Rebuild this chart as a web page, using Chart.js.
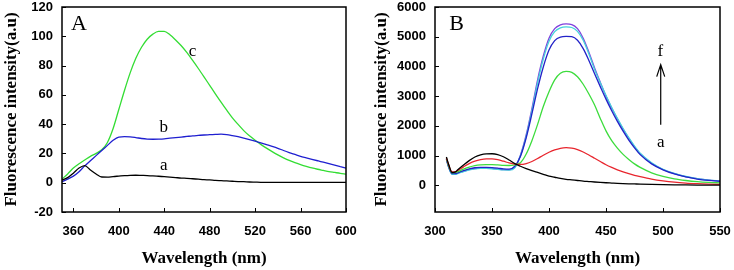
<!DOCTYPE html>
<html>
<head>
<meta charset="utf-8">
<script src="https://cdn.jsdelivr.net/npm/chart.js@4/dist/chart.umd.min.js"></script>
<style>
  body { margin: 0; background: #fff; }
  .panel { position: absolute; top: 0; width: 367px; height: 270px; }
</style>
</head>
<body>
<div class="panel" style="left:0"><canvas id="chartA" width="367" height="270"></canvas></div>
<div class="panel" style="left:367px"><canvas id="chartB" width="367" height="270"></canvas></div>
<script>
// Panel A data (5 nm steps)
const wavelengthsA = [350, 355, 360, 365, 370, 375, 380, 385, 390, 395, 400, 405, 410, 415, 420, 425, 430, 435, 440, 445, 450, 455, 460, 465, 470, 475, 480, 485, 490, 495, 500, 505, 510, 515, 520, 525, 530, 535, 540, 545, 550, 555, 560, 565, 570, 575, 580, 585, 590, 595, 600];
const curveA_a = [1.8, 3.5, 6.5, 10, 11.7, 8.7, 6, 3.9, 3.8, 4.2, 4.5, 4.8, 5, 5.1, 5, 4.9, 4.7, 4.4, 4.1, 3.8, 3.5, 3.2, 3, 2.7, 2.4, 2.1, 1.9, 1.6, 1.4, 1.2, 1, 0.8, 0.7, 0.5, 0.4, 0.3, 0.3, 0.3, 0.3, 0.3, 0.3, 0.3, 0.3, 0.3, 0.3, 0.3, 0.3, 0.3, 0.3, 0.3, 0.3];
const curveA_b = [0.7, 2.5, 4.5, 7.5, 11.5, 15, 18.5, 22, 25.5, 29, 31.2, 31.5, 31.3, 30.8, 30.2, 29.8, 29.7, 29.8, 30, 30.4, 30.8, 31.2, 31.6, 32, 32.3, 32.6, 32.8, 33, 33.2, 32.9, 32.2, 31.4, 30.5, 29.5, 28.4, 27.2, 26, 24.8, 23.5, 22, 20.6, 19.3, 18, 17, 16, 15, 14, 13, 12, 11, 10];
const curveA_c = [2.5, 6, 10, 13, 15.5, 18, 20, 22.5, 27.5, 37, 50, 63, 75, 85, 92.5, 98, 101.5, 103.3, 103.3, 101, 97.5, 93.5, 88.8, 83.5, 78, 72.3, 66.5, 60.7, 55, 49.5, 44.3, 39.8, 35.6, 32, 29, 26.2, 23.6, 21.2, 19, 17, 15.2, 13.7, 12.4, 11.2, 10.1, 9.2, 8.4, 7.6, 7, 6.4, 5.9];
const xTicksA = [360, 400, 440, 480, 520, 560, 600];
const yTicksA = [-20, 0, 20, 40, 60, 80, 100, 120];

// Panel B data
const wavelengthsB = [310, 312, 315, 318, 320, 325, 330, 335, 340, 345, 350, 355, 360, 365, 370, 375, 380, 385, 390, 395, 400, 405, 410, 415, 420, 425, 430, 435, 440, 445, 450, 455, 460, 465, 470, 475, 480, 490, 500, 510, 520, 530, 540, 550];
const curveB_a = [950, 700, 430, 450, 520, 680, 830, 950, 1020, 1055, 1060, 1035, 960, 850, 730, 640, 560, 490, 430, 370, 310, 270, 230, 200, 180, 160, 140, 125, 110, 97, 85, 75, 65, 57, 50, 44, 38, 28, 20, 14, 10, 7, 5, 4];
const curveB_b = [920, 680, 450, 460, 500, 620, 730, 810, 860, 885, 885, 860, 810, 750, 710, 700, 730, 800, 900, 1010, 1110, 1190, 1245, 1265, 1250, 1200, 1120, 1020, 910, 800, 690, 600, 520, 450, 390, 335, 290, 210, 150, 105, 75, 55, 40, 30];
const curveB_c = [900, 650, 420, 430, 460, 540, 610, 660, 685, 695, 695, 685, 670, 665, 690, 760, 1050, 1500, 2050, 2650, 3150, 3550, 3770, 3830, 3800, 3650, 3400, 3070, 2700, 2250, 1830, 1500, 1250, 1040, 870, 720, 600, 420, 300, 215, 160, 120, 95, 80];
const curveB_d = [880, 620, 390, 390, 420, 490, 550, 590, 605, 605, 595, 575, 550, 540, 640, 980, 1600, 2400, 3250, 3980, 4550, 4870, 4990, 5010, 5000, 4880, 4600, 4200, 3750, 3320, 2900, 2510, 2150, 1820, 1520, 1260, 1030, 720, 520, 380, 280, 210, 165, 135];
const curveB_e = [870, 600, 370, 370, 395, 460, 515, 550, 565, 565, 555, 535, 515, 510, 590, 1000, 1650, 2500, 3450, 4250, 4850, 5170, 5300, 5330, 5310, 5180, 4880, 4420, 3900, 3450, 3020, 2620, 2250, 1910, 1600, 1320, 1080, 760, 540, 400, 295, 225, 175, 145];
const curveB_f = [870, 610, 380, 380, 405, 470, 525, 560, 575, 575, 565, 545, 525, 520, 600, 1020, 1700, 2580, 3550, 4350, 4950, 5270, 5400, 5430, 5410, 5270, 4950, 4480, 3950, 3470, 3000, 2600, 2230, 1890, 1580, 1300, 1060, 740, 530, 390, 290, 220, 170, 140];
const xTicksB = [300, 350, 400, 450, 500, 550];
const yTicksB = [0, 1000, 2000, 3000, 4000, 5000, 6000];

const tickFont = { family: 'Liberation Sans', size: 13, weight: 'bold' };
const titleFont = { family: 'Liberation Serif', size: 17, weight: 'bold' };

function toPoints(xs, ys) {
    return xs.map((x, i) => ({ x: x, y: ys[i] }));
}

function line(label, xs, ys, color) {
    return {
        label: label,
        data: toPoints(xs, ys),
        borderColor: color,
        borderWidth: 1.3,
        pointRadius: 0,
        fill: false,
        cubicInterpolationMode: 'monotone'
    };
}

// frame + inward tick marks + text notes
const framePlugin = {
    id: 'frame',
    afterDraw(chart, args, opts) {
        const ctx = chart.ctx;
        const a = chart.chartArea;
        const xs = chart.scales.x;
        const ys = chart.scales.y;
        ctx.save();
        ctx.strokeStyle = '#000';
        ctx.lineWidth = 1;
        ctx.beginPath();
        xs.ticks.forEach(t => {
            const px = Math.round(xs.getPixelForValue(t.value)) + 0.5;
            ctx.moveTo(px, a.bottom);
            ctx.lineTo(px, a.bottom - 4);
        });
        ys.ticks.forEach(t => {
            const py = Math.round(ys.getPixelForValue(t.value)) + 0.5;
            ctx.moveTo(a.left, py);
            ctx.lineTo(a.left + 4, py);
        });
        ctx.stroke();
        ctx.lineWidth = 1.5;
        ctx.strokeRect(a.left, a.top, a.right - a.left, a.bottom - a.top);

        ctx.fillStyle = '#000';
        ctx.textAlign = 'center';
        ctx.textBaseline = 'middle';
        (opts.notes || []).forEach(n => {
            ctx.font = n.size + 'px "Liberation Serif"';
            ctx.fillText(n.text, xs.getPixelForValue(n.x), ys.getPixelForValue(n.y));
        });
        if (opts.arrow) {
            const ax = xs.getPixelForValue(opts.arrow.x);
            const y0 = ys.getPixelForValue(opts.arrow.from);
            const y1 = ys.getPixelForValue(opts.arrow.to);
            ctx.lineWidth = 1.2;
            ctx.beginPath();
            ctx.moveTo(ax, y0);
            ctx.lineTo(ax, y1);
            ctx.moveTo(ax - 4, y1 + 12);
            ctx.lineTo(ax, y1);
            ctx.lineTo(ax + 4, y1 + 12);
            ctx.stroke();
        }
        ctx.restore();
    }
};

function makeOptions(cfg) {
    return {
        responsive: false,
        animation: false,
        layout: { padding: cfg.padding },
        plugins: {
            legend: { display: false },
            tooltip: { enabled: false },
            frame: { notes: cfg.notes, arrow: cfg.arrow }
        },
        scales: {
            x: {
                type: 'linear',
                min: cfg.xMin,
                max: cfg.xMax,
                afterBuildTicks: s => { s.ticks = cfg.xTicks.map(v => ({ value: v })); },
                afterFit: s => { s.height = 58; s.paddingLeft = 0; s.paddingRight = 0; },
                grid: { display: false, drawTicks: false },
                border: { display: false },
                ticks: { color: '#000', font: tickFont, padding: 12, maxRotation: 0, callback: v => String(v) },
                title: { display: true, text: 'Wavelength (nm)', color: '#000', font: titleFont, padding: { top: 0, bottom: 1 } }
            },
            y: {
                type: 'linear',
                min: cfg.yMin,
                max: cfg.yMax,
                afterBuildTicks: s => { s.ticks = cfg.yTicks.map(v => ({ value: v })); },
                afterFit: s => { s.width = cfg.yWidth; s.paddingTop = 0; s.paddingBottom = 0; },
                grid: { display: false, drawTicks: false },
                border: { display: false },
                ticks: { color: '#000', font: tickFont, padding: 9, callback: v => String(v) },
                title: { display: true, text: 'Fluorescence intensity(a.u)', color: '#000', font: titleFont, padding: cfg.yTitlePad }
            }
        }
    };
}

new Chart(document.getElementById('chartA'), {
    type: 'line',
    data: {
        datasets: [
            line('a', wavelengthsA, curveA_a, '#000000'),
            line('b', wavelengthsA, curveA_b, '#1f1fd0'),
            line('c', wavelengthsA, curveA_c, '#33dd33')
        ]
    },
    options: makeOptions({
        padding: { top: 7, right: 21, left: 0, bottom: 0 },
        xMin: 350, xMax: 600, xTicks: xTicksA,
        yMin: -20, yMax: 120, yTicks: yTicksA,
        yWidth: 62, yTitlePad: { top: 1, bottom: 1 },
        notes: [
            { text: 'A', x: 365, y: 108, size: 22 },
            { text: 'c', x: 465, y: 89.5, size: 17 },
            { text: 'b', x: 439.5, y: 38, size: 17 },
            { text: 'a', x: 439.5, y: 11.6, size: 17 }
        ]
    }),
    plugins: [framePlugin]
});

new Chart(document.getElementById('chartB'), {
    type: 'line',
    data: {
        datasets: [
            line('a', wavelengthsB, curveB_a, '#000000'),
            line('b', wavelengthsB, curveB_b, '#e8262e'),
            line('c', wavelengthsB, curveB_c, '#3ddc3d'),
            line('d', wavelengthsB, curveB_d, '#2222c8'),
            line('e', wavelengthsB, curveB_e, '#45d2dc'),
            line('f', wavelengthsB, curveB_f, '#8040dc')
        ]
    },
    options: makeOptions({
        padding: { top: 7, right: 14, left: 0, bottom: 0 },
        xMin: 300, xMax: 550, xTicks: xTicksB,
        yMin: -900, yMax: 6000, yTicks: yTicksB,
        yWidth: 68, yTitlePad: { top: 4, bottom: 4 },
        notes: [
            { text: 'B', x: 319, y: 5420, size: 22 },
            { text: 'f', x: 497.6, y: 4507, size: 17 },
            { text: 'a', x: 498, y: 1426, size: 17 }
        ],
        arrow: { x: 498, from: 2040, to: 4060 }
    }),
    plugins: [framePlugin]
});
</script>
</body>
</html>
